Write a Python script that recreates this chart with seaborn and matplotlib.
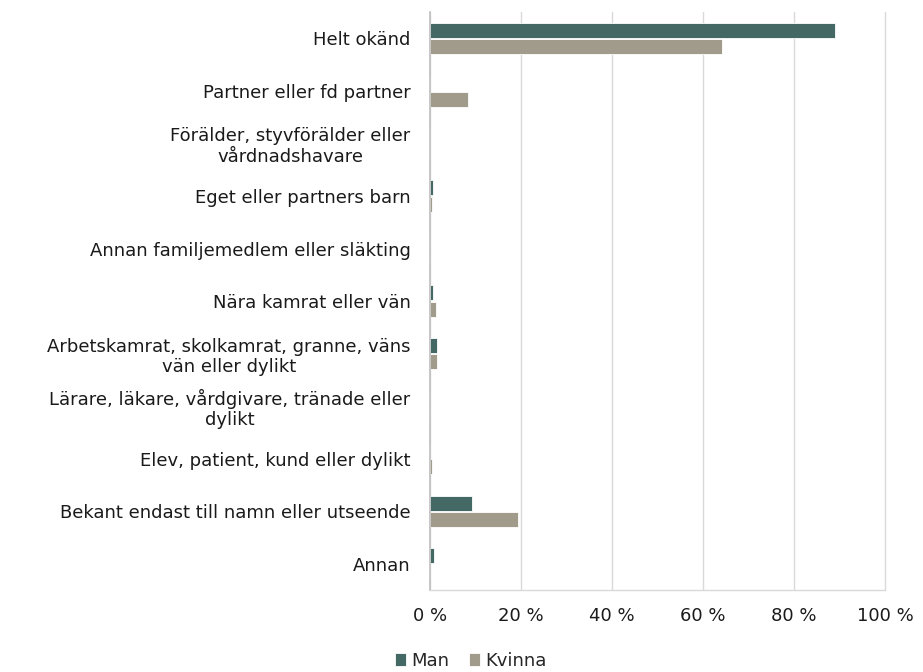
import matplotlib
matplotlib.use("Agg")
import matplotlib.pyplot as plt
import seaborn as sns
import pandas as pd
import numpy as np

categories = [
    "Helt okänd",
    "Partner eller fd partner",
    "Förälder, styvförälder eller\nvårdnadshavare",
    "Eget eller partners barn",
    "Annan familjemedlem eller släkting",
    "Nära kamrat eller vän",
    "Arbetskamrat, skolkamrat, granne, väns\nvän eller dylikt",
    "Lärare, läkare, vårdgivare, tränade eller\ndylikt",
    "Elev, patient, kund eller dylikt",
    "Bekant endast till namn eller utseende",
    "Annan",
]
man = [89.0, 0.0, 0.0, 0.6, 0.0, 0.6, 1.5, 0.0, 0.0, 9.2, 0.9]
kvinna = [64.2, 8.4, 0.0, 0.5, 0.0, 1.4, 1.5, 0.0, 0.5, 19.4, 0.0]
series = ["Man", "Kvinna"]
colors = ["#3e6e69", "#a49d89"]
xticks = [0, 20, 40, 60, 80, 100]

df = pd.DataFrame({
    "kategori": categories * 2,
    "kön": [series[0]] * len(categories) + [series[1]] * len(categories),
    "värde": man + kvinna,
})

sns.set_style("white")
plt.rcParams["font.family"] = ["DejaVu Sans"]

fig = plt.figure(figsize=(9.23, 6.72), dpi=100)
ax = fig.add_axes([0.466, 0.122, 0.493, 0.86])

sns.barplot(data=df, y="kategori", x="värde", hue="kön", orient="h",
            palette=colors, width=0.62, gap=0.08, ax=ax, legend=True,
            edgecolor="white", linewidth=0.6)

ax.set_xlim(0, 100)
ax.set_ylim(len(categories) - 0.5, -0.5)
ax.set_xticks(xticks)
ax.set_xticklabels([f"{t} %" for t in xticks], fontsize=13, color="#1a1a1a")
ax.set_xlabel("")
ax.set_ylabel("")
ax.grid(axis="x", color="#d9d9d9", linewidth=1)
for gl in ax.get_xgridlines():
    gl.set_clip_on(False)
ax.set_axisbelow(True)

ax.set_yticks(range(len(categories)))
ax.set_yticklabels(categories, fontsize=13, color="#1a1a1a")
for lab in ax.get_yticklabels():
    lab.set_multialignment("center")
    lab.set_linespacing(1.15)
ax.tick_params(axis="y", which="major", length=0, pad=14)
ax.set_yticks(np.arange(-0.5, len(categories) + 0.5, 1), minor=True)
ax.tick_params(axis="y", which="minor", length=5, color="#bfbfbf", width=1)
ax.tick_params(axis="x", which="major", length=5, color="#d9d9d9", width=1, pad=7)

for s in ["top", "right"]:
    ax.spines[s].set_visible(False)
ax.spines["left"].set_color("#bfbfbf")
ax.spines["left"].set_linewidth(1.2)
ax.spines["bottom"].set_color("#d9d9d9")
ax.spines["bottom"].set_linewidth(1)

handles, labels = ax.get_legend_handles_labels()
ax.get_legend().remove()
fig.legend(handles, labels, loc="center", bbox_to_anchor=(0.51, 0.017),
           ncol=2, frameon=False, fontsize=13, handlelength=0.6,
           handleheight=0.75, handletextpad=0.3, columnspacing=1.1)

fig.savefig("out.png", dpi=100)
